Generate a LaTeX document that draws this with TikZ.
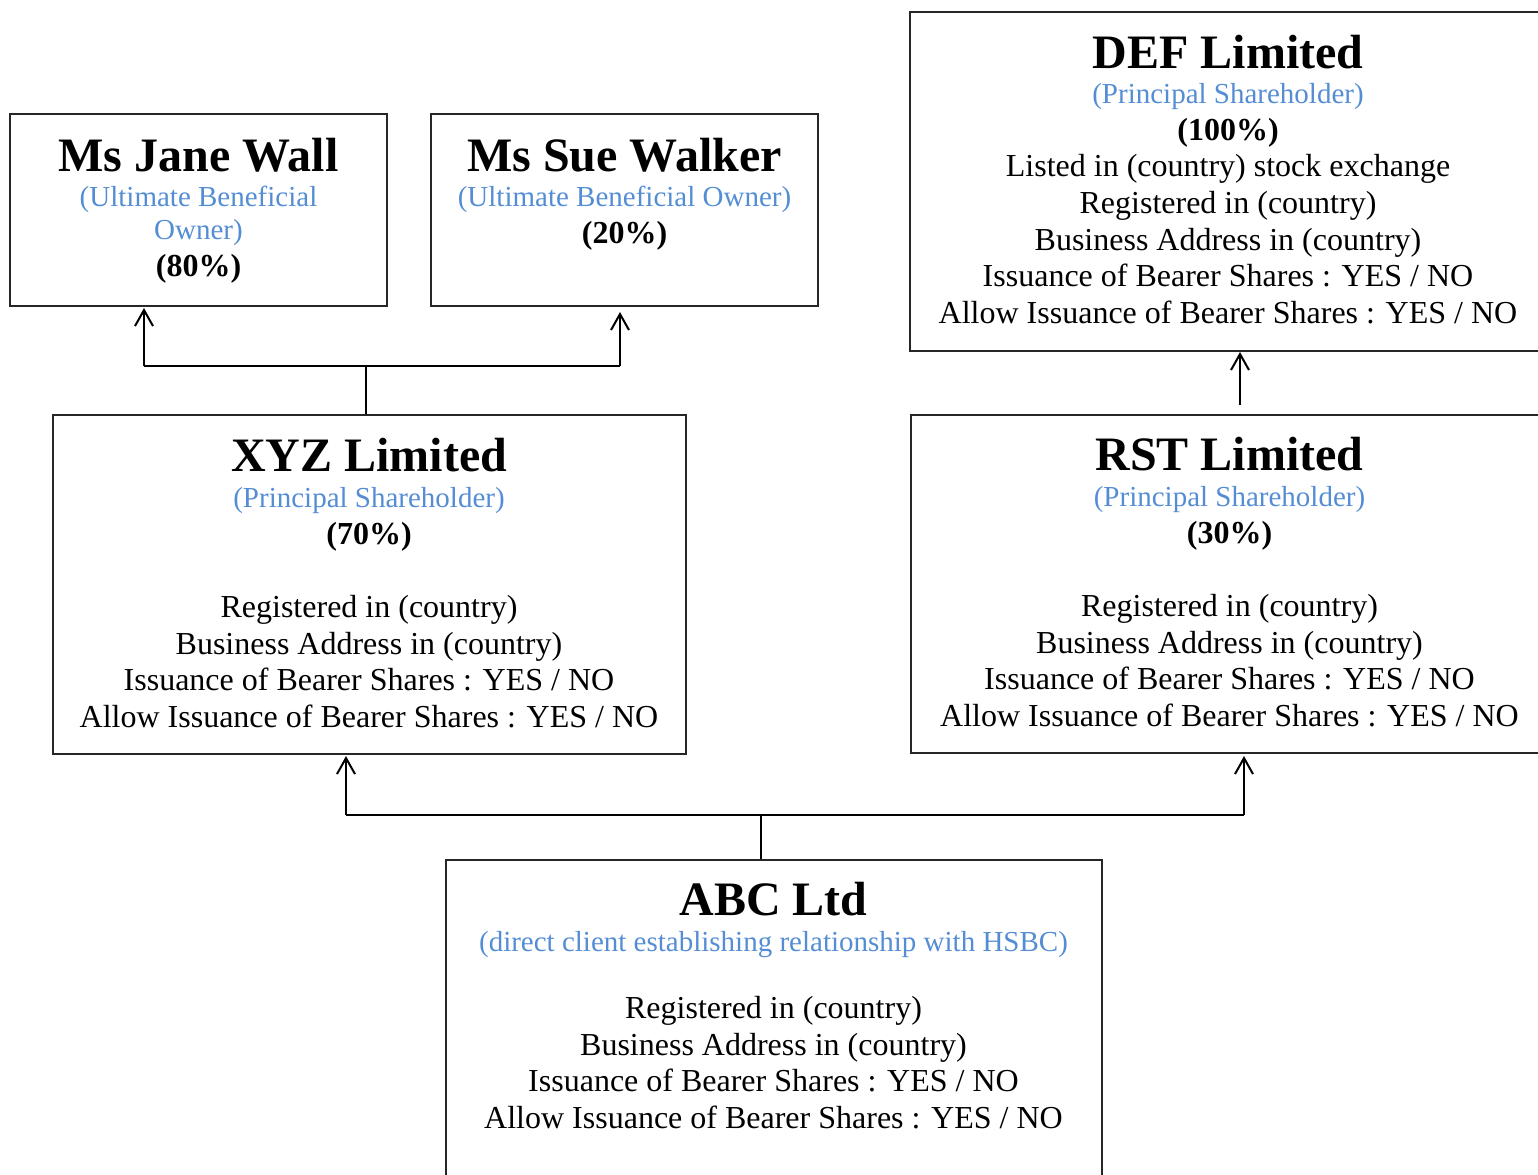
\documentclass[tikz,border=0pt]{standalone}
\usepackage{fontspec}
\setmainfont{Liberation Serif}
\usetikzlibrary{arrows.meta}
\definecolor{subblue}{RGB}{84,141,212}
\begin{document}
\begin{tikzpicture}[x=0.5pt,y=-0.5pt,
  ttl/.style={anchor=base,inner sep=0pt,font=\fontsize{24}{28}\selectfont\bfseries},
  sub/.style={anchor=base,inner sep=0pt,text=subblue,font=\fontsize{14.5}{17}\selectfont},
  pct/.style={anchor=base,inner sep=0pt,font=\fontsize{16}{19}\selectfont\bfseries},
  txt/.style={anchor=base,inner sep=0pt,font=\fontsize{16}{19}\selectfont},
  frame/.style={draw=black!85,line width=0.7pt,inner sep=0pt},
  conn/.style={line width=1pt},
  arr/.style={line width=1pt,-{Straight Barb[length=8pt,width=9pt,line width=1pt]}}]
\useasboundingbox (0,0) rectangle (1538,1174);
% boxes
\node[frame,minimum width=188.5pt,minimum height=96pt] (jane) at (198.5,210) {};
\node[frame,minimum width=193.5pt,minimum height=96pt] (sue) at (624.5,210) {};
\node[frame,minimum width=320pt,minimum height=169.5pt] (def) at (1230,181.5) {};
\node[frame,minimum width=316.5pt,minimum height=169.5pt] (xyz) at (369.5,584.5) {};
\node[frame,minimum width=320pt,minimum height=169pt] (rst) at (1231,584) {};
\node[frame,minimum width=328pt,minimum height=165pt] (abc) at (774,1025) {};
% Jane
\node[ttl] (janeT) at (198.5,171) {Ms Jane Wall};
\node[sub] (janeS1) at (198.5,206) {(Ultimate Beneficial};
\node[sub] (janeS2) at (198.5,239) {Owner)};
\node[pct] (janeP) at (198.5,276) {(80\%)};
% Sue
\node[ttl] (sueT) at (624.5,171) {Ms Sue Walker};
\node[sub] (sueS) at (624.5,206) {(Ultimate Beneficial Owner)};
\node[pct] (sueP) at (624.5,243) {(20\%)};
% DEF
\node[ttl] (defT) at (1228,68) {DEF Limited};
\node[sub] (defS) at (1228,103) {(Principal Shareholder)};
\node[pct] (defP) at (1228,140) {(100\%)};
\node[txt] (def1) at (1228,176) {Listed in (country) stock exchange};
\node[txt] (def2) at (1228,213) {Registered in (country)};
\node[txt] (def3) at (1228,250) {Business Address in (country)};
\node[txt] (def4) at (1228,286) {Issuance of Bearer Shares : YES / NO};
\node[txt] (def5) at (1228,323) {Allow Issuance of Bearer Shares : YES / NO};
% XYZ
\node[ttl] (xyzT) at (369,471) {XYZ Limited};
\node[sub] (xyzS) at (369,507) {(Principal Shareholder)};
\node[pct] (xyzP) at (369,544) {(70\%)};
\node[txt] (xyz1) at (369,617) {Registered in (country)};
\node[txt] (xyz2) at (369,654) {Business Address in (country)};
\node[txt] (xyz3) at (369,690) {Issuance of Bearer Shares : YES / NO};
\node[txt] (xyz4) at (369,727) {Allow Issuance of Bearer Shares : YES / NO};
% RST
\node[ttl] (rstT) at (1229.5,470) {RST Limited};
\node[sub] (rstS) at (1229.5,506) {(Principal Shareholder)};
\node[pct] (rstP) at (1229.5,543) {(30\%)};
\node[txt] (rst1) at (1229.5,616) {Registered in (country)};
\node[txt] (rst2) at (1229.5,653) {Business Address in (country)};
\node[txt] (rst3) at (1229.5,689) {Issuance of Bearer Shares : YES / NO};
\node[txt] (rst4) at (1229.5,726) {Allow Issuance of Bearer Shares : YES / NO};
% ABC
\node[ttl] (abcT) at (773.5,915) {ABC Ltd};
\node[sub] (abcS) at (773.5,951) {(direct client establishing relationship with HSBC)};
\node[txt] (abc1) at (773.5,1018) {Registered in (country)};
\node[txt] (abc2) at (773.5,1055) {Business Address in (country)};
\node[txt] (abc3) at (773.5,1091) {Issuance of Bearer Shares : YES / NO};
\node[txt] (abc4) at (773.5,1128) {Allow Issuance of Bearer Shares : YES / NO};
% connectors top-left
\coordinate (j0) at (366,366);
\coordinate (jl) at (144,366);
\coordinate (jr) at (620,366);
\coordinate (jlt) at (144,308);
\coordinate (jrt) at (620,312);
\draw[conn] (xyz.north -| j0) -- (j0);
\draw[conn] (jl) -- (jr);
\draw[arr] (jl) -- (jlt);
\draw[arr] (jr) -- (jrt);
% RST to DEF
\coordinate (r0) at (1240,405);
\coordinate (r1) at (1240,352);
\draw[arr] (r0) -- (r1);
% ABC connectors
\coordinate (a0) at (761,815);
\coordinate (al) at (346,815);
\coordinate (ar) at (1244,815);
\coordinate (alt) at (346,756);
\coordinate (art) at (1244,756);
\draw[conn] (abc.north -| a0) -- (a0);
\draw[conn] (al) -- (ar);
\draw[arr] (al) -- (alt);
\draw[arr] (ar) -- (art);
\end{tikzpicture}
\end{document}
